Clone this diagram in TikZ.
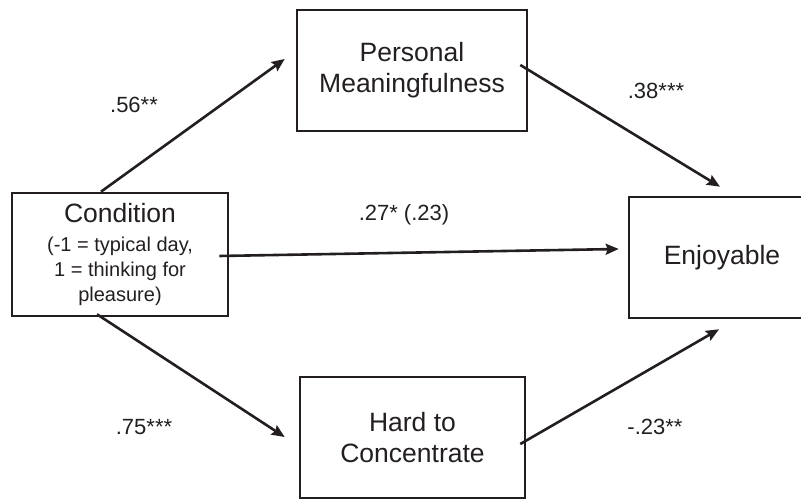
\documentclass[tikz,border=0pt]{standalone}
\usepackage{fontspec}
\setmainfont{Liberation Sans}
\usetikzlibrary{arrows.meta}
\definecolor{ink}{HTML}{231F20}
\begin{document}
\begin{tikzpicture}[x=1pt,y=1pt,
  box/.style={draw=ink, line width=2.6pt, text=ink, align=center, inner sep=0pt,
    font=\fontsize{26.5}{31}\selectfont},
  arr/.style={draw=ink, line width=2.6pt, -{Stealth[length=13pt,width=11pt,inset=2pt]}},
  lbl/.style={text=ink, font=\fontsize{22}{26}\selectfont, inner sep=0pt}]
\useasboundingbox (0,0) rectangle (801,500);
\node[box, minimum width=216pt, minimum height=123pt] (cond) at (120,245.5)
  {Condition\\[-2pt]{\fontsize{20}{23.5}\selectfont (-1 = typical day,}\\[-6pt]{\fontsize{20}{23.5}\selectfont 1 = thinking for}\\[-6pt]{\fontsize{20}{23.5}\selectfont pleasure)}};
\node[box, minimum width=230pt, minimum height=121pt] (pm) at (412,429.5) {Personal\\Meaningfulness};
\node[box, minimum width=225pt, minimum height=121pt] (hc) at (412.5,62.5) {Hard to\\Concentrate};
\node[box, minimum width=186pt, minimum height=121pt] (enj) at (722,242.5) {Enjoyable};
\draw[arr] ([xshift=-19pt]cond.north) -- ([xshift=-11pt,yshift=11.5pt]pm.west);
\draw[arr] ([xshift=-8pt,yshift=5.5pt]pm.east) -- ([xshift=-2pt,yshift=9pt]enj.north);
\draw[arr] ([xshift=-10pt,yshift=-1.5pt]cond.east) -- ([xshift=-9pt,yshift=8.5pt]enj.west);
\draw[arr] ([xshift=-23pt,yshift=3pt]cond.south) -- ([xshift=-14pt,yshift=0.5pt]hc.west);
\draw[arr] ([xshift=-6pt,yshift=-6.5pt]hc.east) -- ([xshift=-3pt,yshift=-10pt]enj.south);
\node[lbl] (l1) at (134,395) {.56**};
\node[lbl] (l2) at (656,409) {.38***};
\node[lbl] (l3) at (404,285) {.27* (.23)};
\node[lbl] (l4) at (144,73) {.75***};
\node[lbl] (l5) at (655,73) {-.23**};
\end{tikzpicture}
\end{document}
